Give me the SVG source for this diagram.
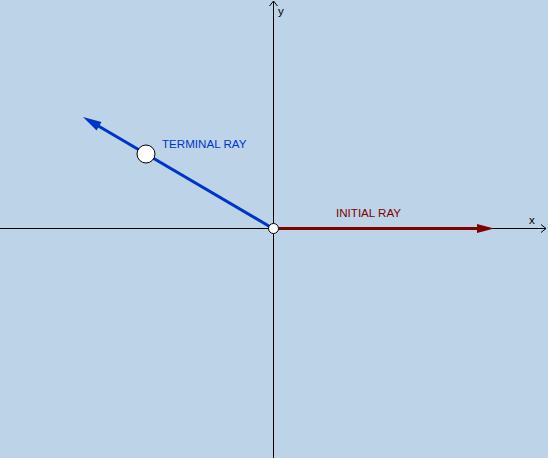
<svg xmlns="http://www.w3.org/2000/svg" width="548" height="458" viewBox="0 0 548 458">
<style>
.axis{stroke:#000;stroke-width:1;fill:none}
.lbl{font-family:"Liberation Sans",Arial,sans-serif;font-size:11.6px}
.pt{fill:#fff;stroke:#000;stroke-width:1}
</style>
<defs>
<marker id="chev" viewBox="0 0 10 10" refX="9" refY="5" markerWidth="10" markerHeight="10" markerUnits="userSpaceOnUse" orient="auto">
<path d="M4,1 L9,5 L4,9" fill="none" stroke="#000" stroke-width="1"/>
</marker>
</defs>
<rect width="548" height="458" fill="#bdd3e7"/>
<g id="axes">
<line class="axis" x1="0" y1="228.5" x2="546" y2="228.5" marker-end="url(#chev)"/>
<line class="axis" x1="273.5" y1="458" x2="273.5" y2="1" marker-end="url(#chev)"/>
<text class="lbl" x="529" y="224" font-size="11">x</text>
<text class="lbl" x="278" y="15" font-size="11">y</text>
</g>
<g id="connectors">
<g id="initial-ray">
<line x1="273" y1="228.5" x2="480" y2="228.5" stroke="#800000" stroke-width="3"/>
<polygon points="494,228.5 477,224 477,233" fill="#800000"/>
</g>
<g id="terminal-ray">
<line x1="273" y1="228.5" x2="95" y2="124" stroke="#0033cc" stroke-width="3"/>
<polygon points="83,117 101.5,122.1 96.6,130.5" fill="#0033cc"/>
</g>
</g>
<g id="origin"><circle class="pt" cx="273.5" cy="228.5" r="5"/></g>
<g id="terminal-point"><circle class="pt" cx="146" cy="154" r="9"/></g>
<g id="labels">
<text class="lbl" x="162" y="148" fill="#0033cc">TERMINAL RAY</text>
<text class="lbl" x="336" y="217" fill="#800000">INITIAL RAY</text>
</g>
</svg>
